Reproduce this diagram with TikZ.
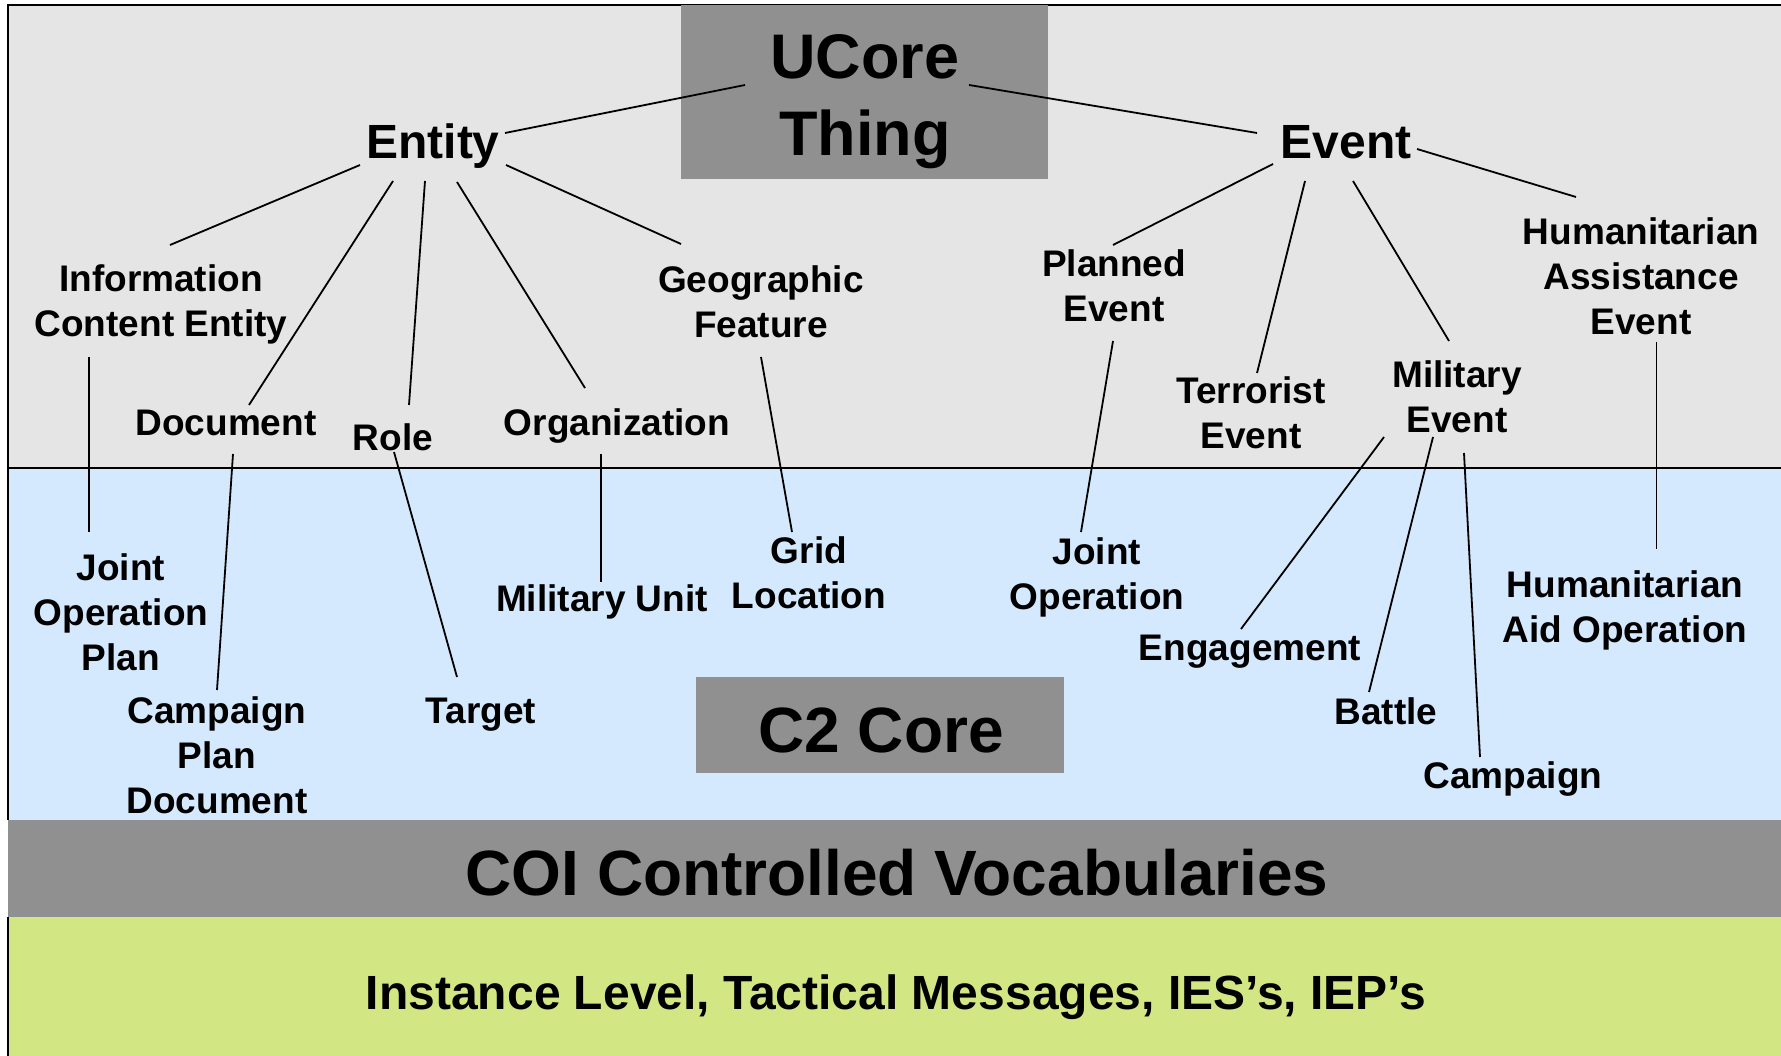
\documentclass[tikz,border=0pt]{standalone}
\usepackage{fontspec}
\setmainfont{Liberation Sans}
\definecolor{topgray}{HTML}{E5E5E5}
\definecolor{lblue}{HTML}{D4E9FD}
\definecolor{dgray}{HTML}{909090}
\definecolor{lgreen}{HTML}{D3E684}
\newcommand\lnk[4]{\draw[conn] ([shift={#2}]#1) -- ([shift={#4}]#3);}
\begin{document}
\begin{tikzpicture}[x=1pt,y=-1pt,
  conn/.style={line width=1.8pt, black},
  lab/.style={font=\fontsize{37}{45}\selectfont\bfseries, align=center, inner sep=0pt},
  labb/.style={font=\fontsize{48}{56}\selectfont\bfseries, inner sep=0pt},
  ttl/.style={font=\fontsize{64}{70}\selectfont\bfseries, inner sep=0pt},
  darkbox/.style={fill=dgray, inner sep=0pt}]
\useasboundingbox (0,0) rectangle (1781,1056);
% bands
\fill[topgray] (8,5) rectangle (1781,468);
\fill[lblue] (8,468) rectangle (1781,820);
\fill[dgray] (8,820) rectangle (1781,917);
\fill[lgreen] (8,917) rectangle (1781,1056);
\draw[line width=2pt] (1781,5) -- (8,5) -- (8,820);
\draw[line width=2pt] (8,917) -- (8,1056);
\draw[line width=2pt] (8,468) -- (1781,468);
% boxes
\node[darkbox, minimum width=367pt, minimum height=174pt] (ucore) at (864.5,92) {};
\node[font=\fontsize{63}{77}\selectfont\bfseries, align=center, inner sep=0pt] (ucorelbl) at (865,101.5) {UCore\\Thing};
\node[darkbox, minimum width=368pt, minimum height=96pt] (c2) at (880,725) {};
\node[ttl, anchor=base] (c2lbl) at (881,752) {C2 Core};
\node[ttl, anchor=base] (coi) at (897,895) {COI Controlled Vocabularies};
\node[labb, anchor=base] (inst) at (896,1009.5) {Instance Level, Tactical Messages, IES’s, IEP’s};
% top level
\node[labb, anchor=base] (entity) at (433,159) {Entity};
\node[labb, anchor=base] (event) at (1346,159) {Event};
% entity children
\node[lab] (ice) at (161,304) {Information\\Content Entity};
\node[lab, anchor=base] (doc) at (226,436) {Document};
\node[lab, anchor=base] (role) at (393,451) {Role};
\node[lab, anchor=base] (org) at (617,436) {Organization};
\node[lab] (geo) at (761,302) {Geographic\\Feature};
% event children
\node[lab] (planned) at (1114,286) {Planned\\Event};
\node[lab] (terror) at (1251,413) {Terrorist\\Event};
\node[lab] (milev) at (1457,397) {Military\\Event};
\node[lab] (hae) at (1641,276) {Humanitarian\\Assistance\\Event};
% C2 core
\node[lab] (jop) at (121,612) {Joint\\Operation\\Plan};
\node[lab] (cpd) at (217,755) {Campaign\\Plan\\Document};
\node[lab, anchor=base] (target) at (481,723) {Target};
\node[lab, anchor=base] (mu) at (602,611) {Military Unit};
\node[lab] (grid) at (809,573) {Grid\\Location};
\node[lab] (jo) at (1097,577) {Joint\\Operation};
\node[lab, anchor=base] (eng) at (1250,660) {Engagement};
\node[lab, anchor=base] (battle) at (1386,724) {Battle};
\node[lab, anchor=base] (camp) at (1513,788) {Campaign};
\node[lab] (hao) at (1625,610) {Humanitarian\\Aid Operation};
% connectors
\lnk{ucore.center}{(-119.5,-7)}{entity.base}{(72,-26)}
\lnk{ucore.center}{(104.5,-7)}{event.base}{(-89,-26)}
\lnk{entity.base}{(-73,6)}{ice.center}{(9,-59)}
\lnk{entity.base}{(-40,22)}{doc.base}{(23,-31)}
\lnk{entity.base}{(-8,22)}{role.base}{(16,-46)}
\lnk{entity.base}{(24,23)}{org.base}{(-32,-48)}
\lnk{entity.base}{(73,6)}{geo.center}{(-80,-58)}
\lnk{ice.center}{(-72,53)}{jop.center}{(-32,-80)}
\lnk{doc.base}{(7,18)}{cpd.center}{(0,-65)}
\lnk{role.base}{(1,1)}{target.base}{(-24,-46)}
\lnk{org.base}{(-16,18)}{mu.base}{(-1,-29)}
\lnk{geo.center}{(0,55)}{grid.center}{(-17,-41)}
\lnk{event.base}{(-73,5)}{planned.center}{(-1,-41)}
\lnk{event.base}{(-41,22)}{terror.center}{(6,-40)}
\lnk{event.base}{(7,22)}{milev.center}{(-8,-56)}
\lnk{event.base}{(71,-10)}{hae.center}{(-65,-79)}
\lnk{planned.center}{(-1,55)}{jo.center}{(-16,-45)}
\lnk{milev.center}{(-73,40)}{eng.base}{(-9,-31)}
\lnk{milev.center}{(-24,40)}{battle.base}{(-17,-32)}
\lnk{milev.center}{(7,56)}{camp.base}{(-33,-31)}
\lnk{hae.center}{(15.5,66)}{hao.center}{(31.5,-61)}
\end{tikzpicture}
\end{document}
